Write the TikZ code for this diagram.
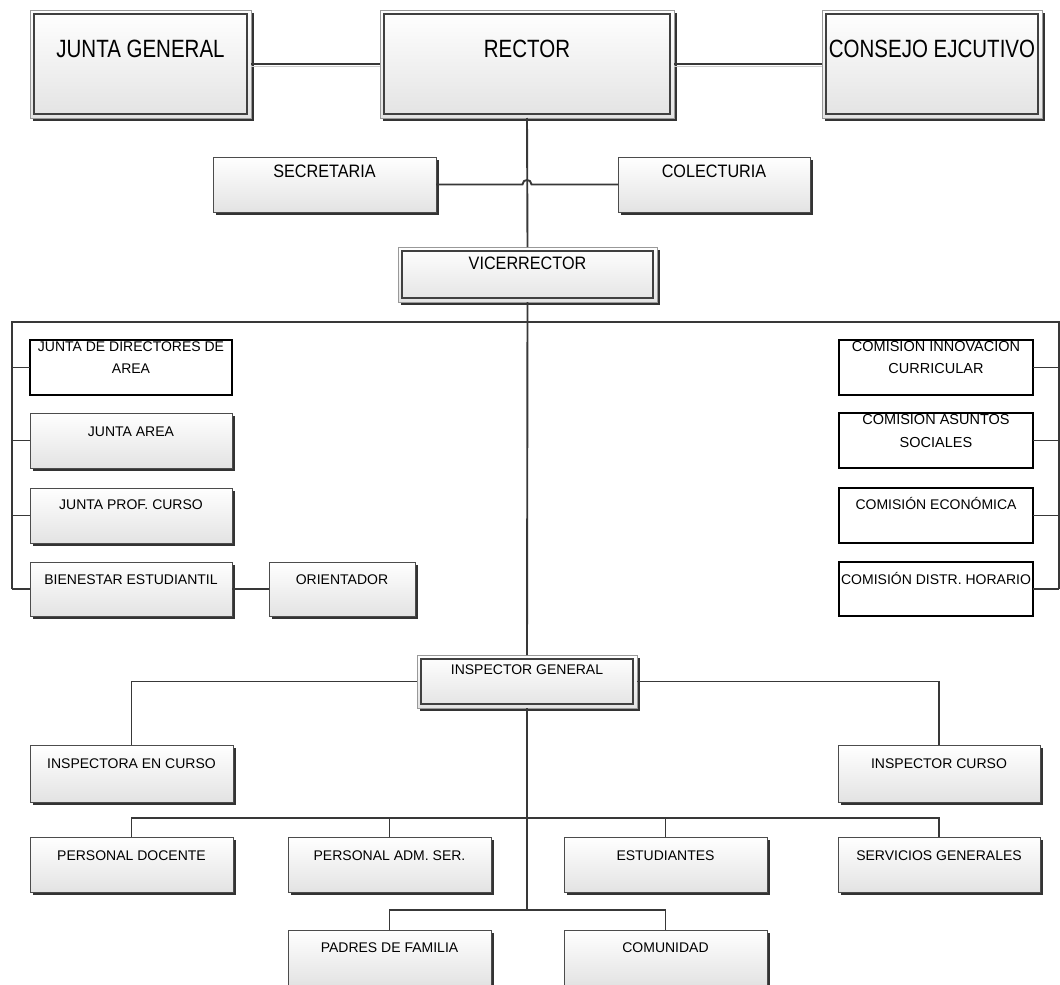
\documentclass[tikz,border=0pt]{standalone}
\usepackage{fontspec}
\setmainfont{Liberation Sans}
\newfontfamily\bigfont[FakeStretch=0.82]{Liberation Sans}
\newfontfamily\midfont[FakeStretch=0.9]{Liberation Sans}
\usetikzlibrary{shadows}
\newcommand\mkbox[6]{\node[#2, minimum width={#5-#3}, minimum height={#6-#4}] (#1) at (#3,#4) {};}
\begin{document}
\begin{tikzpicture}[x=1pt,y=-1pt,
  basebox/.style={rectangle, inner sep=0pt, outer sep=0pt, anchor=north west},
  shbox/.style={basebox, draw=black!70, line width=1pt, top color=white, bottom color=black!11,
     drop shadow={shadow xshift=3pt, shadow yshift=-3pt, fill=black!80, opacity=1}},
  dblbox/.style={shbox, draw=black!40},
  plainbox/.style={basebox, draw=black, line width=1.2pt, fill=white},
  innerline/.style={draw=black!75, line width=1.2pt},
  conn/.style={draw=black!78, line width=1.9pt},
  bigtxt/.style={font=\bigfont\fontsize{25}{30}\selectfont, anchor=base, inner sep=0pt},
  midtxt/.style={font=\midfont\fontsize{18}{22}\selectfont, anchor=base, inner sep=0pt},
  smltxt/.style={font=\fontsize{14}{17}\selectfont, anchor=base, inner sep=0pt},
  twotxt/.style={font=\fontsize{14.5}{17}\selectfont, anchor=base, inner sep=0pt},
]
\fill[white] (0,0) rectangle (1060,985);
\useasboundingbox (0,0) rectangle (1060,985);

% top row
\mkbox{jg}{dblbox}{30}{10}{251}{118}
\mkbox{rec}{dblbox}{380}{10}{674}{118}
\mkbox{ce}{dblbox}{822}{10}{1042}{118}
\mkbox{sec}{shbox}{213}{157}{436}{212}
\mkbox{col}{shbox}{618}{157}{810}{212}
\mkbox{vic}{dblbox}{398}{247}{657}{302}

% left column
\mkbox{jda}{plainbox}{30}{340}{232}{395}
\mkbox{ja}{shbox}{30}{413}{232}{468}
\mkbox{jpc}{shbox}{30}{488}{232}{543}
\mkbox{be}{shbox}{30}{562}{232}{616}
\mkbox{orient}{shbox}{269}{562}{415}{616}

% right column
\mkbox{cic}{plainbox}{839}{340}{1033}{395}
\mkbox{cas}{plainbox}{839}{413}{1033}{468}
\mkbox{cec}{plainbox}{839}{488}{1033}{543}
\mkbox{cdh}{plainbox}{839}{562}{1033}{616}

% inspector
\mkbox{ig}{dblbox}{417}{655}{637}{708}
\mkbox{ia}{shbox}{30}{745}{233}{802}
\mkbox{ic}{shbox}{838}{745}{1040}{802}

% bottom
\mkbox{pd}{shbox}{30}{837}{233}{892}
\mkbox{pa}{shbox}{288}{837}{491}{892}
\mkbox{est}{shbox}{564}{837}{767}{892}
\mkbox{sg}{shbox}{838}{837}{1040}{892}
\mkbox{pf}{shbox}{288}{930}{491}{985}
\mkbox{com}{shbox}{564}{930}{767}{985}

\foreach \n in {jg,rec,ce,vic,ig}
  \draw[innerline] ([xshift=4pt,yshift=-4pt]\n.north west) rectangle ([xshift=-4pt,yshift=4pt]\n.south east);

% texts
\node[bigtxt] (jgt) at ([yshift=-47pt]jg.north) {JUNTA GENERAL};
\node[bigtxt] (rect) at ([yshift=-47pt]rec.north) {RECTOR};
\node[bigtxt] (cet) at ([yshift=-47pt]ce.north) {CONSEJO EJCUTIVO};
\node[midtxt] (sect) at ([yshift=-20pt]sec.north) {SECRETARIA};
\node[midtxt] (colt) at ([yshift=-20pt]col.north) {COLECTURIA};
\node[midtxt] (vict) at ([yshift=-22pt]vic.north) {VICERRECTOR};

\begin{scope}
\clip (jda.north west) rectangle (jda.south east);
\node[smltxt] (jdat1) at ([yshift=-11.5pt]jda.north) {JUNTA DE DIRECTORES DE};
\node[smltxt] (jdat2) at ([yshift=-33pt]jda.north) {AREA};
\end{scope}
\begin{scope}
\clip (cic.north west) rectangle (cic.south east);
\node[twotxt] (cict1) at ([yshift=-11.5pt]cic.north) {COMISIÓN INNOVACIÓN};
\node[twotxt] (cict2) at ([yshift=-33pt]cic.north) {CURRICULAR};
\end{scope}
\begin{scope}
\clip (cas.north west) rectangle (cas.south east);
\node[twotxt] (cast1) at ([yshift=-11.5pt]cas.north) {COMISION ASUNTOS};
\node[twotxt] (cast2) at ([yshift=-34pt]cas.north) {SOCIALES};
\end{scope}

\node[smltxt] (jat) at ([yshift=-23pt]ja.north) {JUNTA AREA};
\node[smltxt] (jpct) at ([yshift=-21pt]jpc.north) {JUNTA PROF. CURSO};
\node[smltxt] (bet) at ([yshift=-22pt]be.north) {BIENESTAR ESTUDIANTIL};
\node[smltxt] (ort) at ([yshift=-22pt]orient.north) {ORIENTADOR};
\node[smltxt] (cect) at ([yshift=-21pt]cec.north) {COMISIÓN ECONÓMICA};
\node[smltxt] (cdht) at ([yshift=-22pt]cdh.north) {COMISIÓN DISTR. HORARIO};
\node[smltxt] (igt) at ([yshift=-19pt]ig.north) {INSPECTOR GENERAL};
\node[smltxt] (iat) at ([yshift=-23pt]ia.north) {INSPECTORA EN CURSO};
\node[smltxt] (ict) at ([yshift=-23pt]ic.north) {INSPECTOR CURSO};
\node[smltxt] (pdt) at ([yshift=-23pt]pd.north) {PERSONAL DOCENTE};
\node[smltxt] (pat) at ([yshift=-23pt]pa.north) {PERSONAL ADM. SER.};
\node[smltxt] (estt) at ([yshift=-23pt]est.north) {ESTUDIANTES};
\node[smltxt] (sgt) at ([yshift=-23pt]sg.north) {SERVICIOS GENERALES};
\node[smltxt] (pft) at ([yshift=-22pt]pf.north) {PADRES DE FAMILIA};
\node[smltxt] (comt) at ([yshift=-22pt]com.north) {COMUNIDAD};

% connectors
\draw[gray!40, line width=1.2pt] ([yshift=-2.8pt]jg.east) -- ([yshift=-2.8pt]rec.west);
\draw[gray!40, line width=1.2pt] ([yshift=-2.8pt]rec.east) -- ([yshift=-2.8pt]ce.west);
\draw[conn] (jg.east) -- (rec.west);
\draw[conn] (rec.east) -- (ce.west);
\draw[conn] (rec.south) -- (vic.north);
\coordinate (hopL) at (522.5,184.5);
\coordinate (hopR) at (531.5,184.5);
\draw[conn] (sec.east) -- (hopL) .. controls (522.5,178.5) and (531.5,178.5) .. (hopR) -- (col.west);

\coordinate (busL) at (12,322);
\coordinate (busR) at (1059,322);
\draw[conn] (vic.south) -- (ig.north);
\draw[conn] (be.west -| busL) -- (busL) -- (busR) -- (cdh.east -| busR);
\foreach \n in {jda,ja,jpc,be} \draw[conn] (\n.west -| busL) -- (\n.west);
\foreach \n in {cic,cas,cec,cdh} \draw[conn] (\n.east) -- (\n.east -| busR);
\draw[conn] (be.east) -- (orient.west);

\draw[conn] (ia.north) |- (ig.west);
\draw[conn] (ic.north) |- (ig.east);
\coordinate (b2) at (527,818);
\coordinate (b3) at (527,910);
\draw[conn] (ig.south) -- (b3);
\draw[conn] (pd.north) -- (pd.north |- b2) -- (sg.north |- b2) -- (sg.north);
\draw[conn] (pa.north) -- (pa.north |- b2);
\draw[conn] (est.north) -- (est.north |- b2);
\draw[conn] (pf.north) -- (pf.north |- b3) -- (com.north |- b3) -- (com.north);
\end{tikzpicture}
\end{document}
